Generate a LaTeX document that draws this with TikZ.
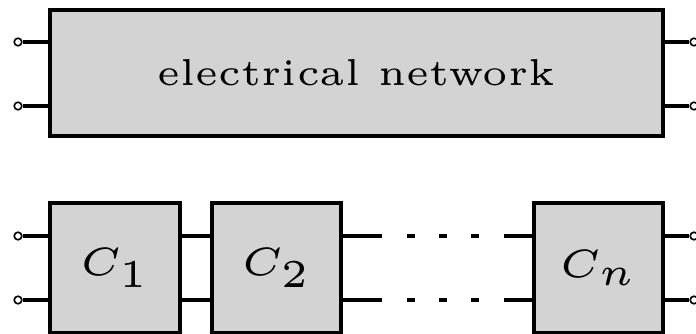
\documentclass[tikz,border=0pt]{standalone}
\usepackage{graphicx}
\definecolor{boxgray}{RGB}{211,211,211}
\newcommand{\bigtxt}[1]{\scalebox{7.5}{\fontsize{5}{6}\selectfont #1}}
\newcommand{\bigmath}[1]{\scalebox{7.9}{\fontsize{5}{6}\selectfont $#1$}}
\begin{document}
\begin{tikzpicture}[x=1pt,y=-1pt,
  wire/.style={line width=3.6pt},
  box/.style={draw, fill=boxgray, line width=3.6pt, inner sep=0pt},
  term/.style={circle, draw, line width=1.6pt, fill=white, minimum size=7.6pt, inner sep=0pt},
  dotsline/.style={wire, dash pattern=on 39pt off 25pt on 8pt off 24pt on 8pt off 24pt on 8pt off 25pt on 60pt}]
\useasboundingbox (0,0) rectangle (696,334);
% top network
\node[box, minimum width=613pt, minimum height=126pt] (top) at (356.5,73)
  {\bigtxt{electrical network}};
\node[term] (tl1) at (18,42) {};
\node[term] (tl2) at (18,106) {};
\node[term] (tr1) at (694,42) {};
\node[term] (tr2) at (694,106) {};
\draw[wire] (tl1) -- (tl1 -| top.west);
\draw[wire] (tl2) -- (tl2 -| top.west);
\draw[wire] (tr1 -| top.east) -- (tr1);
\draw[wire] (tr2 -| top.east) -- (tr2);
% bottom chain
\node[box, minimum width=130pt, minimum height=130pt] (c1) at (115,268)
  {\bigmath{C_1}};
\node[box, minimum width=129pt, minimum height=130pt] (c2) at (276.5,268)
  {\bigmath{C_2}};
\node[box, minimum width=129pt, minimum height=130pt] (cn) at (598.5,268)
  {\bigmath{C_n}};
\node[term] (bl1) at (18,236) {};
\node[term] (bl2) at (18,300) {};
\node[term] (br1) at (694,236) {};
\node[term] (br2) at (694,300) {};
\draw[wire] (bl1) -- (bl1 -| c1.west);
\draw[wire] (bl2) -- (bl2 -| c1.west);
\draw[wire] (bl1 -| c1.east) -- (bl1 -| c2.west);
\draw[wire] (bl2 -| c1.east) -- (bl2 -| c2.west);
\draw[dotsline] (bl1 -| c2.east) -- (bl1 -| cn.west);
\draw[dotsline] (bl2 -| c2.east) -- (bl2 -| cn.west);
\draw[wire] (br1 -| cn.east) -- (br1);
\draw[wire] (br2 -| cn.east) -- (br2);
\end{tikzpicture}
\end{document}
